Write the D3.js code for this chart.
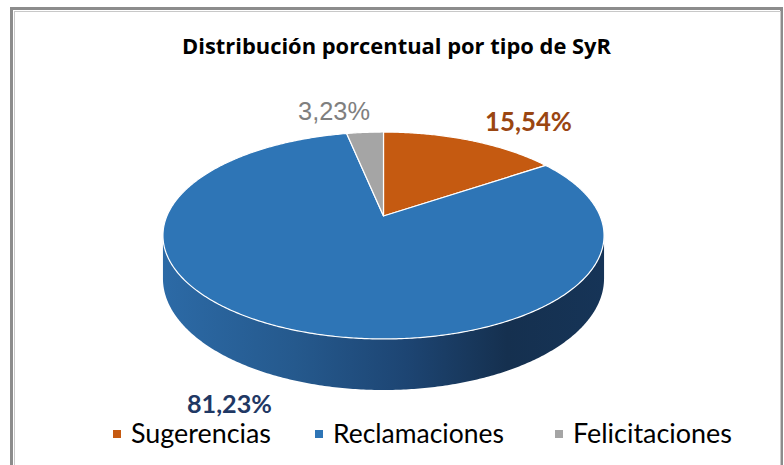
<!DOCTYPE html>
<html><head><meta charset="utf-8">
<script src="https://cdn.jsdelivr.net/npm/d3@7"></script>
<style>html,body{margin:0;padding:0;background:#fff;}svg{display:block;}</style>
</head><body>
<svg id="chart" width="784" height="465"></svg>
<script>
const title = "Distribución porcentual por tipo de SyR";
const categories = ["Sugerencias", "Reclamaciones", "Felicitaciones"];
const values = [15.54, 81.23, 3.23];
const labels = ["15,54%", "81,23%", "3,23%"];
const colors = ["#c55a11", "#2e75b6", "#a5a5a5"];
const labelColors = ["#9a4612", "#1f3864", "#7f7f7f"];

const svg = d3.select("#chart");

// frame
svg.append("rect").attr("x", 11.5).attr("y", 8.5).attr("width", 770).attr("height", 480)
  .attr("fill", "none").attr("stroke", "#8c8c8c").attr("stroke-width", 3);
svg.append("rect").attr("x", 14.5).attr("y", 11.5).attr("width", 766).attr("height", 480)
  .attr("fill", "none").attr("stroke", "#c8c8c8").attr("stroke-width", 1);

function fit(sel, target) {
  const w = sel.node().getComputedTextLength();
  const fs = parseFloat(sel.attr("font-size"));
  sel.attr("font-size", fs * target / w);
}

// title
svg.append("text").attr("x", 396.5).attr("y", 54).attr("text-anchor", "middle")
  .attr("font-family", "Open Sans, sans-serif").attr("font-weight", 700).attr("font-size", 22)
  .attr("textLength", 429).attr("lengthAdjust", "spacingAndGlyphs")
  .attr("fill", "#000").text(title);

// 3D pie projection
const cx = 383.5, cy = 216, A = 99.8, B = 0.1884, C = 216.6, E = 41.4;
const xs = d3.scaleLinear().domain([-1, 1]).range([-C, C]);
function proj(theta, depth) {
  const x = Math.sin(theta), z = -Math.cos(theta);
  const w = 1 - B * z;
  return [cx + xs(x) / w, cy + (A * z + E * depth) / w];
}
function arcPts(a0, a1, depth) {
  const n = Math.max(2, Math.ceil(Math.abs(a1 - a0) / 0.01));
  return d3.range(n + 1).map(i => proj(a0 + (a1 - a0) * i / n, depth));
}
const line = d3.line();
const pie = d3.pie().sort(null).value(d => d)(values);

const defs = svg.append("defs");
const g = defs.append("linearGradient").attr("id", "sideGrad").attr("gradientUnits", "userSpaceOnUse")
  .attr("x1", 163).attr("x2", 604).attr("y1", 0).attr("y2", 0);
[[0, "#2c6aa6"], [0.3, "#25598d"], [0.55, "#1d4573"], [0.78, "#15304f"], [1, "#163457"]]
  .forEach(([o, c]) => g.append("stop").attr("offset", o).attr("stop-color", c));

const sideColors = ["#8f4210", "url(#sideGrad)", "#7a7a7a"];
const s0 = Math.acos(-B), s1 = 2 * Math.PI - Math.acos(-B);
pie.forEach((p, i) => {
  const a0 = Math.max(p.startAngle, s0), a1 = Math.min(p.endAngle, s1);
  if (a1 > a0) {
    const pts = arcPts(a0, a1, 0).concat(arcPts(a1, a0, 1));
    svg.append("path").attr("d", line(pts) + "Z").attr("fill", sideColors[i]);
  }
});
pie.forEach((p, i) => {
  const pts = [[cx, cy]].concat(arcPts(p.startAngle, p.endAngle, 0));
  svg.append("path").attr("d", line(pts) + "Z").attr("fill", colors[i])
    .attr("stroke", "#ffffff").attr("stroke-width", 1.2).attr("stroke-linejoin", "round");
});

// data labels
const labelPos = [[528.5, 131], [229.5, 413], [334, 120]];
const labelFont = ["Lato, sans-serif", "Lato, sans-serif", "Liberation Sans, Arial, sans-serif"];
const labelWeight = [700, 700, 400];
const labelW = [87, 85, 72];
pie.forEach((p, i) => {
  const lt = svg.append("text").attr("x", labelPos[i][0]).attr("y", labelPos[i][1])
    .attr("text-anchor", "middle").attr("font-family", labelFont[i]).attr("font-weight", labelWeight[i])
    .attr("font-size", 24).attr("fill", labelColors[i]).text(labels[i]);
  fit(lt, labelW[i]);
});

// legend
const legX = [113, 315, 555], legW = [140, 171, 159];
categories.forEach((c, i) => {
  svg.append("rect").attr("x", legX[i]).attr("y", 430).attr("width", 8).attr("height", 8).attr("fill", colors[i]);
  const lt = svg.append("text").attr("x", legX[i] + 18).attr("y", 443)
    .attr("font-family", "Lato, sans-serif").attr("font-size", 26).attr("fill", "#000").text(c);
  fit(lt, legW[i]);
});
</script>
</body></html>
